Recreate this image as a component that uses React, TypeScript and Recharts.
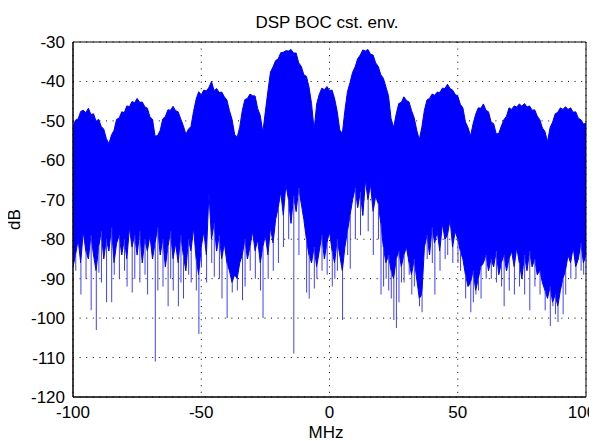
import React from "react";
import {
  ComposedChart,
  Area,
  Bar,
  XAxis,
  YAxis,
  CartesianGrid,
  ReferenceArea,
} from "recharts";

// Spectrum sampled every 1 MHz, from -100 MHz to +100 MHz
const FREQ_START = -100;

// Upper envelope of the spectrum (dB)
const upperDb = [
  -51.5, -49.8, -49.5, -47.6, -47.3, -47.9, -46.8, -48.4, -48.2, -50.1,
  -49.6, -51.4, -52.1, -54.5, -55.8, -53.6, -52.4, -49.6, -49.3, -47.7,
  -47.9, -46.2, -46.4, -45.1, -45.4, -44.3, -45.3, -45.2, -46.4, -46.8,
  -49, -49.6, -53.9, -53.7, -52.4, -49.5, -48.9, -47.2, -47.3, -46.3,
  -47.4, -47.7, -49.5, -51.2, -53.4, -52.1, -51.4, -47.6, -44.5, -42.6,
  -43.4, -42.2, -42.4, -41.5, -40, -42.3, -41.8, -42.8, -42.7, -43.9,
  -44.7, -47.4, -49.6, -53.4, -54.2, -51.6, -47.4, -44.6, -44.3, -43.2,
  -43.6, -43.7, -46.9, -48.6, -52.9, -47.6, -42.4, -37.6, -36.3, -34.7,
  -34.3, -32.7, -32.6, -32.2, -32.3, -31.9, -32.8, -32.8, -35.3, -36.2,
  -38.3, -38.7, -41.4, -45.6, -52.3, -45.7, -43.3, -41.7, -42.1, -41.3,
  -42.3, -42.2, -44.4, -47.6, -52.3, -53.2, -47.4, -42.6, -40.3, -37.7,
  -36.3, -34.2, -33.3, -32, -32.3, -31.9, -33.1, -33.3, -35.3, -36.2,
  -38.3, -39.2, -41.4, -43.6, -49.4, -51.7, -48.3, -45.6, -45.3, -43.9,
  -44.8, -45.2, -47.4, -49.2, -52.3, -54.8, -51.6, -47.3, -44.7, -44.3,
  -43.2, -43.5, -42.7, -42.8, -41.7, -41.8, -40.7, -41.8, -42.2, -43.3,
  -43.7, -45.8, -46.7, -50.3, -51.7, -53.8, -50.7, -48.3, -46.7, -46.8,
  -45.7, -47.3, -47.7, -50.3, -50.7, -53.3, -53.2, -51.3, -49.7, -48.8,
  -46.7, -47.1, -46.2, -46.5, -45.7, -46.3, -45.6, -46.5, -46.2, -47.3,
  -47.2, -48.8, -49.7, -51.8, -52.7, -55.3, -51.7, -50.3, -48.2, -47.8,
  -46.7, -47.1, -46.4, -47.1, -46.7, -47.8, -47.7, -49.3, -49.7, -50.8,
  -50.6,
];

// Lower edge of the dense noise band (dB)
const lowerDb = [
  -87, -84, -80, -86, -78, -83, -85, -79, -84, -88,
  -82, -78, -85, -80, -83, -77, -86, -81, -79, -84,
  -80, -85, -77, -82, -79, -84, -78, -86, -80, -83,
  -79, -85, -81, -77, -84, -80, -87, -82, -78, -85,
  -81, -86, -79, -84, -88, -80, -83, -77, -85, -89,
  -82, -78, -84, -68, -80, -76, -83, -79, -85, -81,
  -86, -88, -91, -89, -90, -86, -84, -80, -85, -82,
  -78, -83, -80, -86, -82, -79, -84, -77, -81, -75,
  -72, -68, -74, -66, -70, -76, -69, -73, -67, -71,
  -75, -80, -84, -86, -82, -87, -83, -79, -85, -81,
  -78, -83, -86, -80, -84, -88, -82, -78, -74, -70,
  -67, -72, -68, -74, -65, -70, -66, -73, -69, -71,
  -76, -82, -86, -84, -88, -90, -85, -83, -87, -84,
  -82, -86, -89, -85, -90, -95, -94, -82, -79, -84,
  -77, -81, -78, -83, -76, -80, -79, -75, -82, -78,
  -80, -83, -85, -89, -92, -91, -88, -93, -90, -87,
  -86, -84, -88, -85, -87, -83, -89, -86, -84, -88,
  -85, -83, -87, -82, -86, -90, -84, -88, -83, -87,
  -85, -89, -88, -91, -93, -95, -92, -96, -94, -97,
  -93, -90, -88, -84, -86, -82, -87, -85, -81, -86,
  -84,
];

// Isolated deep minima (MHz, dB)
const spikeFreqs = [
  -99, -97, -95, -93, -91, -90, -89, -87, -85, -84,
  -82, -80, -79, -77, -76, -74, -72, -71, -68, -67,
  -65, -63, -62, -61, -59, -58, -57, -55, -54, -52,
  -51, -50, -48, -46, -45, -43, -42, -40, -38, -36,
  -34, -33, -31, -29, -27, -26, -24, -22, -20, -18,
  -16, -14, -12, -9, -8, -6, -5, -3, -1, 1,
  2, 3, 5, 7, 8, 10, 12, 15, 17, 19,
  20, 21, 22, 23, 24, 25, 26, 27, 28, 29,
  31, 32, 33, 35, 36, 38, 40, 41, 43, 45,
  46, 48, 50, 51, 53, 55, 56, 57, 58, 59,
  61, 63, 65, 67, 68, 70, 72, 74, 76, 78,
  80, 82, 84, 86, 87, 88, 89, 91, 92, 94,
  96, 98, 99, 100,
];
const spikeDb = [
  -88, -94, -90, -98, -103, -88.5, -91, -96, -96, -89,
  -90, -88, -92, -93.5, -90, -91, -89, -94, -111, -93,
  -92, -97, -90, -93, -97, -91, -95, -89, -91, -93,
  -104, -87, -91, -86, -89.5, -90, -95, -100, -93.5, -93,
  -95.5, -92, -88, -90, -93, -100, -90, -88, -86, -82,
  -80, -109, -84, -93.5, -95, -92.5, -90, -88, -89, -92,
  -90, -88, -100.5, -84, -87.5, -80, -79, -78, -84, -80,
  -94, -92, -90, -93, -95, -100.5, -102.5, -96, -91, -91,
  -89, -94, -92, -97, -98.5, -85, -86, -94, -88, -85,
  -84, -86, -86, -88, -95, -98.5, -96, -94, -93, -95,
  -90, -90, -91, -92, -97, -93, -94, -92, -94, -98,
  -92, -94, -98, -102, -97, -99, -101, -99, -94, -90,
  -90, -88, -89, -89,
];

const xTicks = [-100, -50, 0, 50, 100];
const yTicks = [-120, -110, -100, -90, -80, -70, -60, -50, -40, -30];

const data = upperDb.map((hi, i) => {
  const f = FREQ_START + i;
  const lo = lowerDb[i];
  const k = spikeFreqs.indexOf(f);
  return {
    f,
    band: [lo, hi],
    spike: k >= 0 ? [spikeDb[k], lo] : [lo, lo],
  };
});

const FONT = "'Liberation Sans', Arial, Helvetica, sans-serif";
const tickStyle = { fontSize: 17, fill: "#000", fontFamily: FONT };

const XTick = (props: any) => {
  const { x, y, payload } = props;
  const isLast = payload.value === xTicks[xTicks.length - 1];
  return (
    <text
      x={isLast ? x - 3 : x}
      y={y}
      dy="0.71em"
      textAnchor="middle"
      fontSize={17}
      fontFamily={FONT}
      fill="#000"
    >
      {payload.value}
    </text>
  );
};

export default function App() {
  return (
    <div style={{ position: "relative", width: 589, height: 433 }}>
      <ComposedChart
        width={589}
        height={433}
        data={data}
        margin={{ top: 34, right: 11, bottom: 0, left: 0 }}
        style={{ overflow: "visible" }}
      >
        <CartesianGrid stroke="#000" strokeDasharray="1 5.6" strokeWidth={1} />
        <XAxis
          dataKey="f"
          type="number"
          domain={[-100, 100]}
          ticks={xTicks}
          height={44}
          tickLine={false}
          axisLine={{ stroke: "#000" }}
          tickSize={6}
          tickMargin={3}
          tick={<XTick />}
          allowDataOverflow
        />
        <XAxis
          xAxisId="top"
          dataKey="f"
          type="number"
          orientation="top"
          mirror
          domain={[-100, 100]}
          ticks={xTicks}
          height={0}
          tick={false}
          tickLine={{ stroke: "#000" }}
          tickSize={5}
          axisLine={false}
          allowDataOverflow
        />
        <YAxis
          type="number"
          domain={[-120, -30]}
          ticks={yTicks}
          width={65}
          tickLine={false}
          axisLine={{ stroke: "#000" }}
          tickSize={6}
          tickMargin={2}
          tick={tickStyle}
          allowDataOverflow
        />
        <YAxis
          yAxisId="right"
          type="number"
          orientation="right"
          mirror
          domain={[-120, -30]}
          ticks={yTicks}
          width={0}
          tick={false}
          tickLine={{ stroke: "#000" }}
          tickSize={5}
          axisLine={false}
          allowDataOverflow
        />
        <Bar dataKey="spike" barSize={1} fill="#4040ff" isAnimationActive={false} />
        <Area
          dataKey="band"
          type="linear"
          fill="#0000ff"
          fillOpacity={1}
          stroke="#0000ff"
          strokeWidth={1}
          dot={false}
          activeDot={false}
          isAnimationActive={false}
        />
        <ReferenceArea
          x1={-100}
          x2={100}
          y1={-120}
          y2={-30}
          fill="none"
          fillOpacity={0}
          stroke="#000"
          strokeWidth={1}
        />
      </ComposedChart>
      <svg
        width={597}
        height={441}
        style={{
          position: "absolute",
          left: -8,
          top: -8,
          pointerEvents: "none",
          overflow: "visible",
        }}
      >
        <text x={327} y={28} textAnchor="middle" fontSize={17} fontFamily={FONT} fill="#000">
          DSP BOC cst. env.
        </text>
        <text x={326} y={438} textAnchor="middle" fontSize={17} fontFamily={FONT} fill="#000">
          MHz
        </text>
        <text
          x={20}
          y={219.5}
          textAnchor="middle"
          fontSize={17}
          fontFamily={FONT}
          fill="#000"
          transform="rotate(-90 20 219.5)"
        >
          dB
        </text>
      </svg>
    </div>
  );
}
